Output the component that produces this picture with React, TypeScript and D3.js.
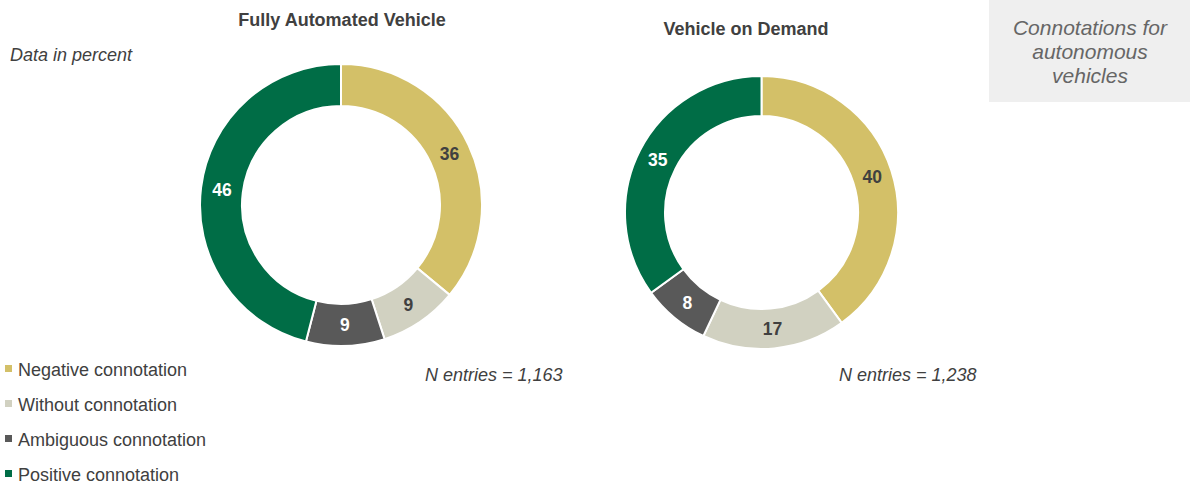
import React from "react";
import * as d3 from "d3";

const categories = ["Negative connotation", "Without connotation", "Ambiguous connotation", "Positive connotation"];
const colors = ["#d3c068", "#d1d1c1", "#595959", "#006d46"];
const labelColors = ["#404040", "#404040", "#ffffff", "#ffffff"];
const fullyAutomated = [36, 9, 9, 46];
const onDemand = [40, 17, 8, 35];
const chartTitles = ["Fully Automated Vehicle", "Vehicle on Demand"];
const nEntries = ["N entries = 1,163", "N entries = 1,238"];

const FONT = "Liberation Sans, Arial, sans-serif";

function Donut({ values, cx, cy, outer, inner }: { values: number[]; cx: number; cy: number; outer: number; inner: number }) {
  const pie = d3.pie<number>().sort(null).value((d) => d);
  const arcs = pie(values);
  const arc = d3.arc<d3.PieArcDatum<number>>().innerRadius(inner).outerRadius(outer);
  return (
    <g transform={`translate(${cx},${cy})`}>
      {arcs.map((a, i) => (
        <path key={i} d={arc(a) || ""} fill={colors[i]} stroke="#ffffff" strokeWidth={2} />
      ))}
      {arcs.map((a, i) => {
        const [x, y] = arc.centroid(a);
        return (
          <text key={"t" + i} x={x} y={y} dy="0.36em" textAnchor="middle" fontFamily={FONT} fontWeight="bold" fontSize={17.5} fill={labelColors[i]}>
            {values[i]}
          </text>
        );
      })}
    </g>
  );
}

export default function App() {
  return (
    <svg width={1193} height={483} style={{ position: "absolute", left: 0, top: 0, background: "#fff" }}>
      <text x={10} y={61} fontFamily={FONT} fontStyle="italic" fontSize={18} fill="#404040">Data in percent</text>
      <text x={342} y={26} textAnchor="middle" fontFamily={FONT} fontWeight="bold" fontSize={18} fill="#404040">{chartTitles[0]}</text>
      <text x={746} y={35} textAnchor="middle" fontFamily={FONT} fontWeight="bold" fontSize={18} fill="#404040">{chartTitles[1]}</text>

      <Donut values={fullyAutomated} cx={341} cy={205} outer={141} inner={99} />
      <Donut values={onDemand} cx={761.5} cy={212.5} outer={136.5} inner={96.5} />

      <text x={425} y={381} fontFamily={FONT} fontStyle="italic" fontSize={18} fill="#404040">{nEntries[0]}</text>
      <text x={839} y={381} fontFamily={FONT} fontStyle="italic" fontSize={18} fill="#404040">{nEntries[1]}</text>

      <rect x={989} y={0} width={201} height={102} fill="#efefef" />
      <g fontFamily={FONT} fontStyle="italic" fontSize={21} fill="#666666" textAnchor="middle">
        <text x={1090} y={35}>Connotations for</text>
        <text x={1090} y={59}>autonomous</text>
        <text x={1090} y={83}>vehicles</text>
      </g>

      {categories.map((c, i) => (
        <g key={c}>
          <rect x={5} y={365 + i * 35} width={7} height={7} fill={colors[i]} />
          <text x={18} y={375.5 + i * 35} fontFamily={FONT} fontSize={18} fill="#404040">{c}</text>
        </g>
      ))}
    </svg>
  );
}
